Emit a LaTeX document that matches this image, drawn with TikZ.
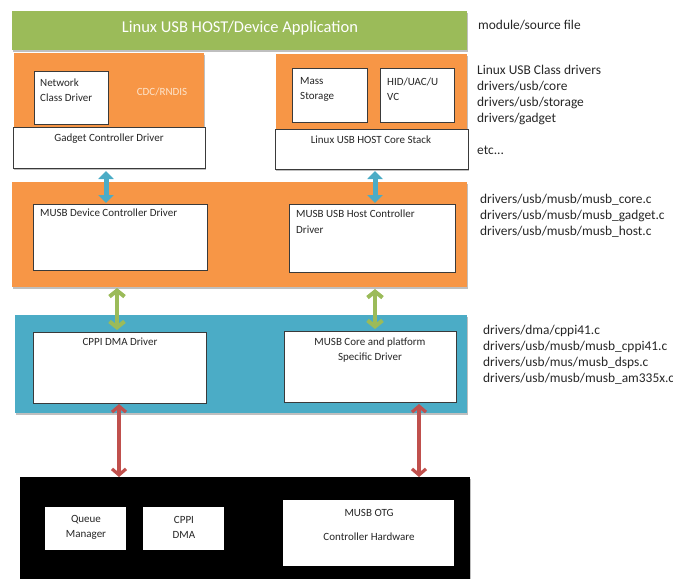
\documentclass[tikz,border=0pt]{standalone}
\usepackage{fontspec}
\setmainfont{Carlito}
\usetikzlibrary{arrows.meta,shadows}
\definecolor{cgreen}{HTML}{9BBB59}
\definecolor{corange}{HTML}{F79646}
\definecolor{cblue}{HTML}{4BACC6}
\definecolor{cred}{HTML}{C0504D}
\definecolor{cline}{HTML}{3A3A3A}
\definecolor{ctext}{HTML}{262626}
\definecolor{cpale}{HTML}{FCE4CC}
\begin{document}
\begin{tikzpicture}[x=1pt,y=-1pt,
  blk/.style={inner sep=0pt,outer sep=0pt,anchor=north west,
    drop shadow={shadow xshift=1.2pt,shadow yshift=-1.5pt,opacity=0.25,fill=black}},
  bx/.style={draw=cline,fill=white,line width=0.7pt,inner sep=0pt,outer sep=0pt,anchor=north west},
  sz/.style 2 args={minimum width=#1pt,minimum height=#2pt},
  btxt/.style={font=\fontsize{11}{15}\selectfont,text=ctext,inner sep=0pt,align=center},
  ltxt/.style={font=\fontsize{11}{15}\selectfont,text=ctext,inner sep=0pt,align=left,anchor=west},
  rtxt/.style={font=\fontsize{13.4}{16}\selectfont,text=ctext,inner sep=0pt,align=left,anchor=west},
  barrow/.style={draw=cblue,line width=5pt,{Triangle[length=8pt,width=15pt]}-{Triangle[length=8pt,width=15pt]}},
  garrow/.style={draw=cgreen,line width=4pt,{Straight Barb[length=6pt,width=15pt]}-{Straight Barb[length=6pt,width=15pt]}},
  rarrow/.style={draw=cred,line width=3.2pt,{Straight Barb[length=6pt,width=14pt]}-{Straight Barb[length=6pt,width=14pt]}}
]
\useasboundingbox (0,0) rectangle (673,579);

% top level
\node[blk,fill=cgreen,sz={455}{39}] (app) at (12,11) {};
\node[font=\fontsize{16.5}{18}\selectfont,text=white,inner sep=0pt] (apptxt) at (240,28) {Linux USB HOST/Device Application};

% left class block
\node[blk,fill=corange,sz={190}{76}] (lor) at (14,53) {};
\node[bx,sz={74}{53}] (net) at (34,71) {};
\node[ltxt] (nettxt) at (40,90.5) {Network\\Class Driver};
\node[btxt,text=cpale] (cdc) at (162,92) {CDC/RNDIS};
\node[bx,sz={192}{41},drop shadow={shadow xshift=1.2pt,shadow yshift=-1.5pt,opacity=0.25,fill=black}] (gcd) at (13,127) {};
\node[btxt] (gcdtxt) at (109,139) {Gadget Controller Driver};

% right class block
\node[blk,fill=corange,sz={191}{76}] (ror) at (276,54) {};
\node[bx,sz={75}{54}] (mass) at (292,68) {};
\node[ltxt] (masstxt) at (300,89) {Mass\\Storage};
\node[bx,sz={74}{54}] (hid) at (380,68) {};
\node[ltxt] (hidtxt) at (387,89) {HID/UAC/U\\VC};
\node[bx,sz={193}{40},drop shadow={shadow xshift=1.2pt,shadow yshift=-1.5pt,opacity=0.25,fill=black}] (core) at (275,129) {};
\node[btxt] (coretxt) at (371,140) {Linux USB HOST Core Stack};

% MUSB controller drivers
\node[blk,fill=corange,sz={455}{105}] (musb) at (12,182) {};
\node[bx,sz={174}{66}] (mdc) at (33,204) {};
\node[ltxt] (mdctxt) at (40,213) {MUSB Device Controller Driver};
\node[bx,sz={166}{68}] (mhc) at (289,204) {};
\node[ltxt,font=\fontsize{11}{16}\selectfont] (mhctxt) at (296,222) {MUSB USB Host Controller\\Driver};

% DMA / platform
\node[blk,fill=cblue,sz={452}{98}] (plat) at (15,315) {};
\node[bx,sz={173}{71}] (cppi) at (33,332) {};
\node[btxt] (cppitxt) at (120,342) {CPPI DMA Driver};
\node[bx,sz={172}{71}] (mcore) at (284,331) {};
\node[btxt] (mcoretxt) at (370,350.5) {MUSB Core and platform\\Specific Driver};

% hardware
\node[blk,fill=black,sz={450}{104}] (hw) at (20,477) {};
\node[bx,draw=none,sz={81}{43}] (qm) at (45,507) {};
\node[btxt] (qmtxt) at (86,527) {Queue\\Manager};
\node[bx,draw=none,sz={81}{43}] (cdma) at (143,507) {};
\node[btxt] (cdmatxt) at (184,527) {CPPI\\DMA};
\node[bx,draw=none,sz={171}{66}] (otg) at (283,500) {};
\node[btxt] (otgtxt) at (369,525) {MUSB OTG\\[9pt]Controller Hardware};

% connectors
\coordinate (xa) at (106,0);
\coordinate (xb) at (375,0);
\coordinate (xc) at (117,0);
\coordinate (xd) at (375,0);
\coordinate (xe) at (119,0);
\coordinate (xf) at (419,0);
\draw[barrow,shorten <=3pt,shorten >=1pt] (gcd.south -| xa) -- (mdc.north -| xa);
\draw[barrow,shorten <=2pt,shorten >=1pt] (core.south -| xb) -- (mhc.north -| xb);
\draw[garrow,shorten <=1pt,shorten >=2pt] (musb.south -| xc) -- (cppi.north -| xc);
\draw[garrow,shorten <=2pt,shorten >=2pt] (musb.south -| xd) -- (mcore.north -| xd);
\draw[rarrow,shorten <=1pt,shorten >=0pt] (cppi.south -| xe) -- (hw.north -| xe);
\draw[rarrow,shorten <=2pt,shorten >=0pt] (mcore.south -| xf) -- (hw.north -| xf);

% right-hand notes
\node[rtxt] (n1) at (478,25) {module/source file};
\node[rtxt] (n2) at (477,95) {Linux USB Class drivers\\drivers/usb/core\\drivers/usb/storage\\drivers/gadget};
\node[rtxt] (n3) at (477,150) {etc...};
\node[rtxt] (n4) at (480,216) {drivers/usb/musb/musb\_core.c\\drivers/usb/musb/musb\_gadget.c\\drivers/usb/musb/musb\_host.c};
\node[rtxt] (n5) at (483,355) {drivers/dma/cppi41.c\\drivers/usb/musb/musb\_cppi41.c\\drivers/usb/mus/musb\_dsps.c\\drivers/usb/musb/musb\_am335x.c};
\end{tikzpicture}
\end{document}
